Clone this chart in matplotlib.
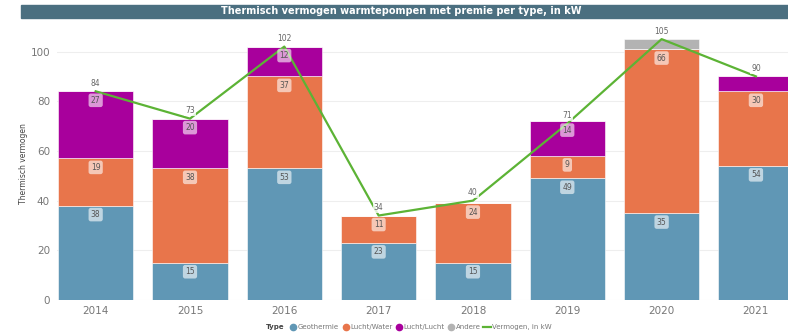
import numpy as np
import matplotlib.pyplot as plt
from matplotlib.lines import Line2D
from matplotlib.patches import Rectangle

years = ["2014", "2015", "2016", "2017", "2018", "2019", "2020", "2021"]
geothermie = [38, 15, 53, 23, 15, 49, 35, 54]
lucht_water = [19, 38, 37, 11, 24, 9, 66, 30]
lucht_lucht = [27, 20, 12, 0, 0, 14, 0, 6]
andere = [0, 0, 0, 0, 0, 0, 4, 0]
vermogen = [84, 73, 102, 34, 40, 71, 105, 90]

series = [
    ("Geothermie", geothermie, "#6097b5"),
    ("Lucht/Water", lucht_water, "#e8754b"),
    ("Lucht/Lucht", lucht_lucht, "#a8009c"),
    ("Andere", andere, "#b3b3b3"),
]
line_color = "#5cb335"

fig = plt.figure(figsize=(7.88, 3.34), dpi=100)
ax = fig.add_axes([57 / 788, 34 / 334, 1 - 57 / 788, (300 - 26.7) / 334])

x = np.arange(len(years))
bottom = np.zeros(len(years))
for name, vals, col in series:
    vals = np.array(vals, dtype=float)
    ax.bar(x, vals, 0.8, bottom=bottom, color=col, edgecolor="white",
           linewidth=0.4, zorder=2)
    # labels only on segments big enough to hold them
    for xi, b, v in zip(x, bottom, vals):
        if v >= 8:
            ax.annotate("%d" % v, (xi, b + v), xytext=(0, -9),
                        textcoords="offset pixels", ha="center", va="center",
                        fontsize=5.5, color="#555555", zorder=4,
                        bbox=dict(boxstyle="round,pad=0.3,rounding_size=0.3",
                                  fc="white", ec="none", alpha=0.6))
    bottom += vals

ax.plot(x, vermogen, color=line_color, lw=1.6, zorder=3)
for xi, v in zip(x, vermogen):
    ax.annotate("%d" % v, (xi, v), xytext=(0, 8), textcoords="offset pixels",
                ha="center", va="center", fontsize=5.5, color="#666666",
                zorder=5, annotation_clip=False,
                bbox=dict(boxstyle="square,pad=0.15", fc="white", ec="none",
                          alpha=0.8))

ax.set_xlim(-0.41, 7.34)
ax.set_ylim(0, 110)
ax.set_yticks([0, 20, 40, 60, 80, 100])
ax.set_xticks(x)
ax.set_xticklabels(years)
ax.grid(axis="y", color="#eeeeee", lw=0.8, zorder=0)
ax.set_axisbelow(True)
for s in ax.spines.values():
    s.set_visible(False)
ax.tick_params(length=0, labelsize=7.5, labelcolor="#777777")
ax.tick_params(axis="y", pad=5)
ax.tick_params(axis="x", pad=4)
ax.set_ylabel("Thermisch vermogen", fontsize=5.5, color="#444444", labelpad=2)

# title banner
fig.patches.append(Rectangle((21 / 788, 1 - 17.5 / 334), 1 - 21 / 788, 12.5 / 334,
                             transform=fig.transFigure, color="#4b6f80",
                             zorder=0))
fig.text(401 / 788, 1 - 11.3 / 334,
         "Thermisch vermogen warmtepompen met premie per type, in kW",
         ha="center", va="center", fontsize=7, color="white",
         fontweight="bold")

# legend row
fig.text(285 / 788, 1 - 327 / 334, "Type", ha="right", va="center",
         fontsize=5, color="#444444", fontweight="bold")
handles = [Line2D([], [], ls="none", marker="o", ms=4.5, color=c)
           for _, _, c in series]
handles.append(Line2D([], [], color=line_color, lw=1.6))
labels = [n for n, _, _ in series] + ["Vermogen, in kW"]
leg = fig.legend(handles, labels, loc="center left",
                 bbox_to_anchor=(286 / 788, 1 - 327 / 334), ncol=5,
                 frameon=False, fontsize=5, handlelength=1.1,
                 handletextpad=0.1, columnspacing=0.4, borderpad=0)
for t in leg.get_texts():
    t.set_color("#777777")

fig.savefig("out.png", dpi=100)
